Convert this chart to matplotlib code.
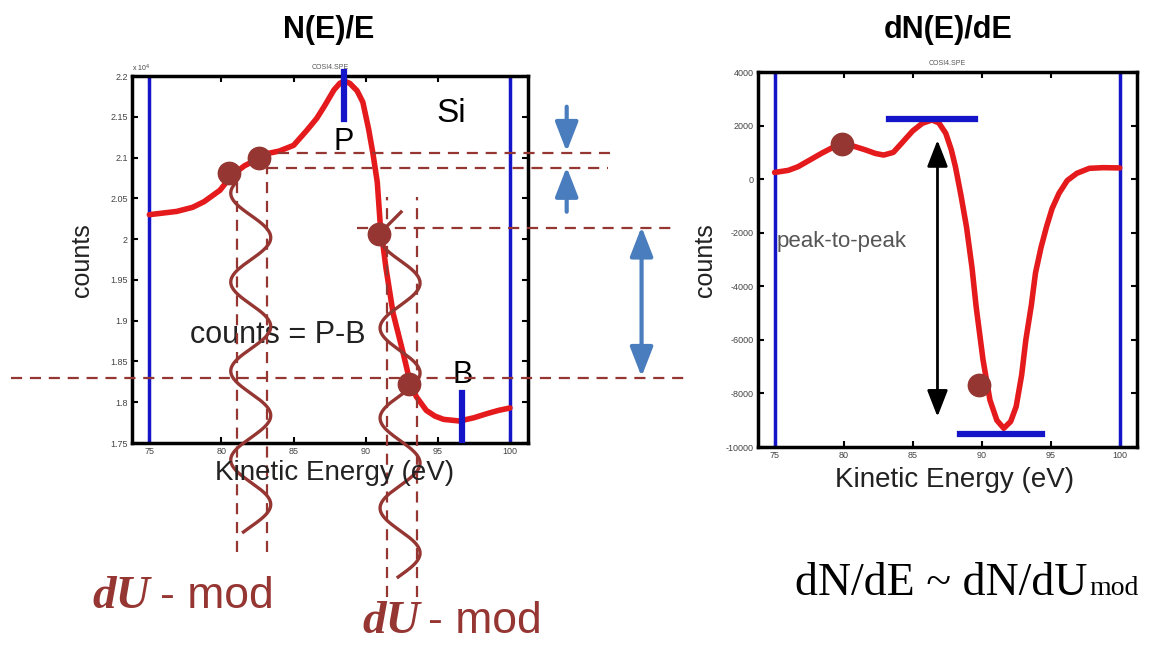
import numpy as np
import matplotlib
matplotlib.use('Agg')
import matplotlib.pyplot as plt

plt.rcParams['font.family'] = ['Liberation Sans', 'DejaVu Sans']

# N(E)/E spectrum (counts in units of 1e4)
energy_n = [75.0, 76.9, 78.0, 78.8, 79.9, 80.7, 81.6, 82.6, 83.2, 84.0, 85.0, 85.9,
            86.6, 87.1, 87.8, 88.2, 88.5, 88.9, 89.4, 89.8, 90.2, 90.5, 90.8, 91.0,
            91.4, 91.9, 92.6, 93.0, 93.5, 94.2, 94.8, 95.4, 96.5, 97.5, 98.4, 99.2, 100.0]
counts_n = [2.030, 2.034, 2.039, 2.046, 2.060, 2.078, 2.090, 2.099, 2.105, 2.108, 2.115, 2.133,
            2.148, 2.162, 2.183, 2.191, 2.194, 2.191, 2.182, 2.168, 2.135, 2.105, 2.070, 2.020,
            1.965, 1.909, 1.860, 1.830, 1.807, 1.790, 1.783, 1.779, 1.777, 1.781, 1.786, 1.790, 1.793]

# dN(E)/dE spectrum
energy_d = [75.0, 76.0, 76.7, 77.5, 78.4, 79.2, 79.9, 80.8, 81.6, 82.3, 82.9, 83.6, 84.2,
            85.0, 85.7, 86.4, 86.9, 87.4, 87.8, 88.1, 88.5, 88.9, 89.3, 89.6, 90.1, 90.6,
            91.1, 91.6, 92.1, 92.5, 92.9, 93.2, 93.6, 93.9, 94.3, 94.7, 95.1, 95.6, 96.2,
            96.9, 97.8, 98.8, 100.0]
counts_d = [250, 330, 465, 700, 965, 1180, 1290, 1220, 1090, 960, 900, 1000, 1340,
            1800, 2085, 2210, 2100, 1712, 1100, 465, -600, -1775, -3300, -4760, -6750, -8245,
            -9000, -9300, -9050, -8490, -7300, -6000, -4700, -3500, -2550, -1775, -1100, -530, -50,
            220, 405, 430, 420]

# modulation sample points marked on the curves
dots_n_x = [80.55, 82.6, 90.95, 93.0]
dots_n_y = [2.081, 2.099, 2.006, 1.822]
dots_d_x = [79.9, 89.8]
dots_d_y = [1300, -7685]

peak_e, peak_top, peak_bottom = 88.5, 2.205, 2.147
back_e, back_top = 96.7, 1.811
window = [75, 100]

# peak-to-peak bars on the derivative
pp_top = 2245
pp_top_span = [83.3, 89.5]
pp_bot = -9520
pp_bot_span = [88.4, 94.4]

yticks_n = [1.75, 1.8, 1.85, 1.9, 1.95, 2.0, 2.05, 2.1, 2.15, 2.2]
yticklabels_n = ['1.75', '1.8', '1.85', '1.9', '1.95', '2', '2.05', '2.1', '2.15', '2.2']
yticks_d = [-10000, -8000, -6000, -4000, -2000, 0, 2000, 4000]
xticks = [75, 80, 85, 90, 95, 100]

red = '#e41a1c'
blue = '#1414c8'
brown = '#953632'
arrow_blue = '#4a7dbe'

fig = plt.figure(figsize=(11.61, 6.46), dpi=100)
ax1 = fig.add_axes([0.1137, 0.3142, 0.3411, 0.5681])
ax2 = fig.add_axes([0.6529, 0.3080, 0.3264, 0.5805])

for ax in (ax1, ax2):
    for s in ax.spines.values():
        s.set_linewidth(2.5)
    ax.tick_params(direction='in', length=4, width=1.5, top=True, right=True,
                   labelsize=6.5, labelcolor='#444444', pad=3)
    ax.set_xticks(xticks)
    ax.set_xticklabels([str(t) for t in xticks])
    ax.set_xlim(73.8, 101.25)
    for e in window:
        ax.axvline(e, color=blue, lw=2.5, zorder=2)

# ---- left panel: N(E)/E
ax1.set_ylim(1.75, 2.2)
ax1.set_yticks(yticks_n)
ax1.set_yticklabels(yticklabels_n)
ax1.plot(energy_n, counts_n, color=red, lw=4, solid_joinstyle='round', solid_capstyle='round', zorder=3)
ax1.plot([peak_e, peak_e], [peak_bottom, peak_top], color=blue, lw=4.5, clip_on=False, zorder=4)
ax1.plot([back_e, back_e], [1.75, back_top], color=blue, lw=4.5, zorder=4)
ax1.text(88.45, 2.119, 'P', fontsize=22, ha='center', va='center')
ax1.text(95.9, 2.1546, 'Si', fontsize=24, ha='center', va='center')
ax1.text(96.75, 1.833, 'B', fontsize=22, ha='center', va='center')
ax1.text(83.9, 1.8824, 'counts = P-B', fontsize=22, ha='center', va='center', color='#222222', zorder=1)
ax1.text(0.0, 1.012, 'x 10$^4$', transform=ax1.transAxes, fontsize=5, color='#444444')
ax1.text(0.5, 1.018, 'COSI4.SPE', transform=ax1.transAxes, fontsize=5, color='#555555', ha='center')

# dashed guide lines for the modulation picture
dash = dict(color=brown, lw=1.6, dashes=(5, 3.5), clip_on=False, zorder=5)
h_levels = [2.1056, 2.0872, 2.0136, 1.8297]
h_starts = [82.6, 83.15, 89.4, 65.4]
h_ends = [106.9, 106.8, 111.2, 112.25]
for lev, a, b in zip(h_levels, h_starts, h_ends):
    ax1.plot([a, b], [lev, lev], **dash)
v_pos = [81.07, 83.15, 91.46, 93.53]
v_tops = [2.0725, 2.0872, 2.0516, 2.0516]
v_bots = [1.6163, 1.6163, 1.561, 1.561]
for xp, t, b in zip(v_pos, v_tops, v_bots):
    ax1.plot([xp, xp], [b, t], **dash)

# sketched modulation waves
waves = [(82.03, 1.385, 2.0565, 2.0688, 1.6409, 0.1091),
         (92.38, 1.385, 2.0014, 2.0014, 1.5857, 0.1104)]
for xc, amp, y0, ytop, ybot, per in waves:
    yy = np.linspace(ytop, ybot, 300)
    xx = xc - amp * np.cos(2 * np.pi * (y0 - yy) / per)
    ax1.plot(xx, yy, color=brown, lw=2.4, clip_on=False, zorder=6)
ax1.plot([90.93, 92.45], [2.0063, 2.0333], color=brown, lw=2.4, clip_on=False, zorder=6)
ax1.scatter(dots_n_x, dots_n_y, s=260, color=brown, zorder=7, clip_on=False)

# blue arrows on the right of the left panel
aprops = dict(arrowstyle='-|>,head_length=0.9,head_width=0.35', color=arrow_blue, lw=3,
              mutation_scale=20, shrinkA=0, shrinkB=0)
ax1.annotate('', xy=(103.93, 2.1072), xytext=(103.93, 2.1624), arrowprops=aprops, annotation_clip=False)
ax1.annotate('', xy=(103.93, 2.0884), xytext=(103.93, 2.0336), arrowprops=aprops, annotation_clip=False)
ax1.annotate('', xy=(109.12, 1.8313), xytext=(109.12, 2.0152), annotation_clip=False,
             arrowprops=dict(arrowstyle='<|-|>,head_length=0.9,head_width=0.35', color=arrow_blue,
                             lw=3, mutation_scale=20, shrinkA=0, shrinkB=0))

# ---- right panel: dN(E)/dE
ax2.set_ylim(-10000, 4000)
ax2.set_yticks(yticks_d)
ax2.set_yticklabels([str(t) for t in yticks_d])
ax2.plot(energy_d, counts_d, color=red, lw=4, solid_joinstyle='round', solid_capstyle='round', zorder=3)
ax2.plot(pp_top_span, [pp_top, pp_top], color=blue, lw=4.5, zorder=4)
ax2.plot(pp_bot_span, [pp_bot, pp_bot], color=blue, lw=4.5, zorder=4)
ax2.annotate('', xy=(86.8, -8870), xytext=(86.8, 1460),
             arrowprops=dict(arrowstyle='<|-|>,head_length=0.9,head_width=0.35', color='black',
                             lw=2, mutation_scale=18, shrinkA=0, shrinkB=0))
ax2.text(75.15, -2335, 'peak-to-peak', fontsize=16, color='#555555', ha='left', va='center')
ax2.scatter(dots_d_x, dots_d_y, s=260, color=brown, zorder=7)
ax2.text(0.5, 1.018, 'COSI4.SPE', transform=ax2.transAxes, fontsize=5, color='#555555', ha='center')

# titles and axis labels
fig.text(329 / 1161, 1 - 30 / 646, 'N(E)/E', fontsize=22, fontweight='bold', ha='center', va='center')
fig.text(948 / 1161, 1 - 30 / 646, 'dN(E)/dE', fontsize=22, fontweight='bold', ha='center', va='center')
fig.text(82 / 1161, 1 - 260 / 646, 'counts', fontsize=18, rotation=90, ha='center', va='center', color='#222222')
fig.text(705 / 1161, 1 - 260 / 646, 'counts', fontsize=18, rotation=90, ha='center', va='center', color='#222222')
fig.text(335 / 1161, 1 - 473 / 646, 'Kinetic Energy (eV)', fontsize=20, ha='center', va='center', color='#222222')
fig.text(955 / 1161, 1 - 480 / 646, 'Kinetic Energy (eV)', fontsize=20, ha='center', va='center', color='#222222')

# bottom annotations
serif = ['Liberation Serif', 'DejaVu Serif']
fig.text(92 / 1161, 1 - 608 / 646, 'dU', family=serif, fontsize=34, fontweight='bold',
         style='italic', color=brown, va='baseline')
fig.text(160 / 1161, 1 - 608 / 646, '- mod', fontsize=32, color=brown, va='baseline')
fig.text(362 / 1161, 1 - 633 / 646, 'dU', family=serif, fontsize=34, fontweight='bold',
         style='italic', color=brown, va='baseline')
fig.text(428 / 1161, 1 - 633 / 646, '- mod', fontsize=32, color=brown, va='baseline')
base = 1 - 595 / 646
main = fig.text(795 / 1161, base, 'dN/dE ~ dN/dU', family=serif, fontsize=33, va='baseline')
fig.canvas.draw()
fig.text(main.get_window_extent().x1 / fig.bbox.width + 0.002, base, 'mod',
         family=serif, fontsize=20, va='baseline')

fig.savefig('out.png', dpi=100)
